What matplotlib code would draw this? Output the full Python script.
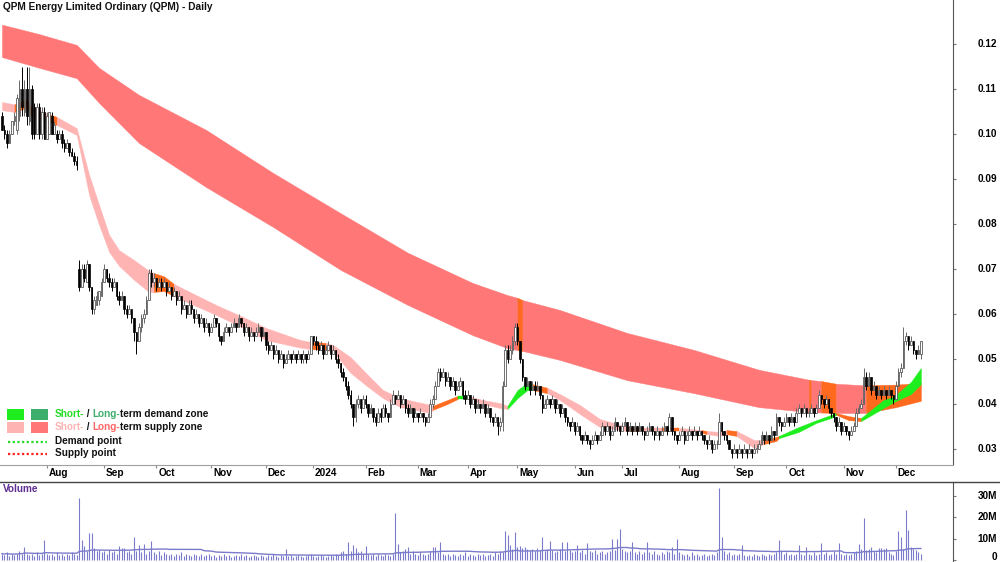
import numpy as np
import pandas as pd
import matplotlib
matplotlib.use("Agg")
import matplotlib.pyplot as plt
from matplotlib.patches import Rectangle
from matplotlib.lines import Line2D

plt.rcParams['font.family'] = ['Liberation Sans', 'DejaVu Sans']
plt.rcParams['font.weight'] = 'bold'

# ---------------- data (prices in thousandths of a dollar) ----------------
open_m = [
104,101,100,98,100,103,101,104,110,105, 110,103,110,106,100,106,100,105,99,100,
104,100,100,99,100,98,97,98,96,95, 94,70,66,70,67,71,66,61,62,63,
64,67,70,68,67,66,67,64,63,64, 61,60,61,59,56,54,57,59,60,63,
69,67,68,66,67,66,67,65,66,64, 65,63,64,61,62,60,62,61,59,60,
58,59,57,58,56,57,59,58,55,54, 56,57,56,57,58,57,59,58,56,57,
55,56,55,56,57,55,56,53,52,53, 51,52,50,51,49,50,51,50,51,50,
51,50,51,50,51,55,54,53,52,53, 51,52,53,51,52,50,49,47,46,44,
42,40,37,40,41,39,41,40,38,39, 37,36,38,37,39,38,37,40,42,41,
42,40,41,39,38,39,37,38,37,38, 37,36,37,40,41,44,47,46,47,45,
46,44,45,43,44,45,42,41,42,40, 41,39,40,39,40,38,39,37,36,37,
35,36,44,52,50,52,54,57,54,50, 46,44,45,43,44,43,44,42,39,40,
41,40,41,39,40,38,39,37,36,35, 36,34,35,33,32,33,32,31,32,33,
32,33,35,34,35,33,34,36,35,34, 35,36,34,35,34,35,34,35,34,33,
34,35,34,33,34,33,34,35,34,37, 34,33,32,33,34,32,33,34,33,34,
33,34,33,32,31,32,30,31,31,36, 34,33,32,30,29,30,29,30,29,30,
29,30,29,30,30,31,33,32,33,32, 34,33,37,36,35,36,37,36,37,36,
38,39,38,39,38,38,39,38,39,42, 41,40,41,39,38,37,35,36,34,35,
34,33,34,35,38,39,40,46,44,46, 43,44,42,43,42,43,42,43,42,41,
44,47,48,54,55,53,54,52,51,51]
high_m = [
105,102,101,101,103,105,109,112,115,112, 115,115,111,107,107,107,106,106,105,105,
105,103,101,101,101,99,99,98,97,96, 95,72,71,71,72,71,66,64,65,65,
68,71,70,69,68,68,67,65,65,64, 62,62,61,59,56,58,60,61,64,70,
70,69,68,68,68,68,67,67,66,66, 65,65,64,63,62,63,63,61,61,60,
60,59,59,58,58,60,59,58,55,57, 58,57,58,59,58,60,59,58,58,57,
57,56,57,58,57,57,56,54,54,53, 53,52,52,51,51,52,51,52,51,52,
51,52,51,52,55,55,55,54,54,53, 53,54,53,53,52,51,49,48,46,45,
43,40,41,42,41,42,42,40,40,39, 38,39,39,40,40,38,41,43,42,43,
42,42,41,40,40,39,39,38,39,38, 37,38,41,42,45,48,48,48,47,47,
46,46,45,45,46,45,43,43,42,42, 41,41,40,41,40,40,39,37,38,37,
37,45,53,53,53,55,58,58,54,50, 46,46,45,45,45,45,44,42,41,42,
41,42,41,41,40,40,39,37,36,37, 36,36,35,33,34,33,32,33,34,33,
34,36,35,36,35,35,37,36,35,36, 37,36,36,35,36,35,36,35,34,35,
36,35,34,35,34,35,36,35,38,37, 34,33,34,35,34,34,35,34,35,34,
35,34,33,32,33,32,32,32,38,36, 34,33,32,30,31,30,31,30,31,30,
31,30,31,31,32,34,33,34,33,35, 34,38,37,36,37,38,37,38,37,39,
40,39,40,39,39,40,39,40,43,42, 41,42,41,39,38,37,37,36,36,35,
34,35,36,39,40,41,48,47,47,46, 45,44,44,43,44,43,44,43,42,45,
48,49,57,56,55,55,54,52,53,54]
low_m = [
101,99,97,98,100,102,100,103,104,104, 102,102,99,99,100,99,99,99,99,100,
100,100,98,99,97,96,97,95,95,93, 92,65,66,67,67,65,60,60,62,62,
64,67,67,66,65,66,63,62,63,60, 59,60,58,54,51,54,56,58,60,63,
66,66,65,66,65,66,64,65,63,64, 62,63,60,61,59,60,60,58,59,57,
58,56,57,55,56,57,57,54,53,54, 56,55,56,57,56,57,57,55,56,54,
55,54,55,56,54,55,52,51,52,50, 51,49,50,48,49,50,49,50,49,50,
49,49,49,50,51,53,52,51,52,50, 51,52,50,51,49,48,46,45,43,41,
39,35,36,39,38,39,39,37,38,36, 35,36,36,37,37,36,37,40,40,41,
39,40,38,37,38,36,37,36,37,36, 35,36,37,39,41,44,45,46,44,45,
43,44,42,43,44,41,40,41,39,40, 38,39,38,39,37,38,36,35,36,33,
34,34,44,49,50,51,53,53,49,45, 43,44,42,43,42,43,41,38,39,40,
39,40,38,39,37,38,36,35,34,35, 33,34,32,31,32,31,30,31,32,31,
32,33,33,34,32,33,34,34,33,34, 35,33,34,33,34,33,34,33,32,33,
34,33,32,33,32,33,34,33,34,33, 32,31,32,33,31,32,33,32,33,32,
33,32,31,30,31,29,30,30,31,33, 32,31,30,28,29,28,29,28,29,28,
29,28,29,29,30,31,31,32,31,32, 32,33,35,34,35,36,35,36,35,36,
38,37,38,37,37,38,37,38,39,40, 39,40,38,37,36,34,35,33,34,33,
32,33,34,35,38,39,40,43,44,42, 43,41,42,41,42,41,42,41,40,41,
44,46,48,53,52,53,51,50,51,50]
close_m = [
101,100,98,100,103,104,108,110,106,110, 104,110,100,100,106,100,105,99,104,105,
100,102,99,100,98,97,98,96,95,94, 93,66,70,68,71,66,61,63,64,65,
67,70,68,67,66,67,64,63,64,61, 60,61,59,56,54,57,59,60,63,69,
67,68,66,67,66,67,65,66,64,65, 63,64,61,62,60,62,61,59,60,58,
59,57,58,56,57,59,58,55,54,56, 57,56,57,58,57,59,58,56,57,55,
56,55,56,57,55,56,53,52,53,51, 52,50,51,49,50,51,50,51,50,51,
50,51,50,51,55,54,53,52,53,51, 52,53,51,52,50,49,47,46,44,42,
40,37,40,41,39,41,40,38,39,37, 36,38,37,39,38,37,40,42,41,42,
40,41,39,38,39,37,38,37,38,37, 36,37,40,41,44,47,46,47,45,46,
44,45,43,44,45,42,41,42,40,41, 39,40,39,40,38,39,37,36,37,35,
36,44,52,50,52,54,57,54,50,46, 44,45,43,44,43,44,42,39,40,41,
40,41,39,40,38,39,37,36,35,36, 34,35,33,32,33,32,31,32,33,32,
33,35,34,35,33,34,36,35,34,35, 36,34,35,34,35,34,35,34,33,34,
35,34,33,34,33,34,35,34,37,34, 33,32,33,34,32,33,34,33,34,33,
34,33,32,31,32,30,31,31,36,34, 33,32,30,29,30,29,30,29,30,29,
30,29,30,30,31,33,32,33,32,34, 33,37,36,35,36,37,36,37,36,38,
39,38,39,38,38,39,38,39,42,41, 40,41,39,38,37,35,36,34,35,34,
33,34,35,38,39,40,46,44,46,43, 44,42,43,42,43,42,43,42,41,44,
47,48,54,55,53,54,52,51,52,54]
volume_m = [
3,2.5,3.5,2,3,2.5,3,4,3,6, 3,2.5,3,2,3.5,2.5,3,9.3,3,2.5,
3,2,3.5,2.5,3,2,3,2.5,3.5,3, 2.5,28.8,9.3,6.5,4,12.6,12.6,5.6,4,4.5,
3.5,4,3,4.5,3.5,4,3,6.5,5.6,5.6, 3.5,4,3,10.7,4,7,3.5,7.4,3,4,
8.8,3.5,3,4,2.5,3.5,3,2.5,3,2, 3,2.5,3.5,2,3,2.5,2,3,2.5,2,
3,2,2.5,3,2,2.5,1.5,2.5,2,3, 2,2.5,1.5,2,2.5,2,3,2,2.5,1.5,
2,2.5,2,1.5,2.5,2,1.5,2.5,2,3, 2,1.5,2.5,2,5.1,2,2.5,1.5,2,2.5,
2,1.5,2,2.5,3,2,1.5,2,2.5,2, 1.5,2,2.5,2,3,2.5,3.5,4,3,8.4,
4,7,5.6,3.5,4,3,6.5,3,2.5,3, 2,3,2.5,2,3,2.5,2,3,21.9,7.4,
3.5,4,5.1,6,3,4,3,2.5,3.5,3, 2.5,3,4,6,6,3.5,8.4,3,2.5,3,
2,3,2.5,2,3,2.5,3.5,2,3,2.5, 2,3,2.5,3,2,2.5,3,2,3.5,3,
4,3.5,13.5,11.6,7,5,13,6,6.5,5.5, 6,5,4.5,5,4,5.5,4.5,10.7,4,5,
8.8,4.5,3.5,4,5,8.4,4,8.4,4.5,3.5, 4,7,3.5,4.5,3,7.9,4,3.5,4.5,3,
3.5,4,3,3.5,4,9.8,4.5,9.8,14.4,5, 4,3.5,4,8.4,3.5,3,4,3,3.5,8.4,
3.5,3,4,3,2.5,3.5,3,4,3.5,6, 3,9.8,3.5,3,2.5,3,2,3.5,2.5,3,
2,2.5,3,2,2.5,3,2.5,3.5,33.6,10.7, 4,3,3.5,2.5,3,2.5,3,7,2.5,2,
2.5,2,3,2.5,2,3,2.5,2,3,2.5, 3,3.5,9.3,4,3,3.5,2.5,3,2.5,3,
7,3,2.5,6,3,2.5,3.5,2.5,3,7.9, 3,3.5,2.5,3,4,3,7.9,3,2.5,3,
2.5,3,3.5,4,7.4,5,19.5,4.5,5,6, 4,3.5,5.5,5.5,5,5.5,3.5,3,2.5,4,
13.5,10.7,5,23.3,14,6,5,4.5,3.5,3]

# long-term zone: day index, upper / lower edge (thousandths), state of segment to the right
lt_day   = [0, 15, 30, 39, 55, 82, 109, 136, 163, 189, 203, 207, 209, 224, 251, 278, 304, 324, 325, 329, 335, 345, 347, 359, 369]
lt_upper = [124.3,122.2,119.8,114.7,108.7,100.9,91.3,82.4,73.6,66.9,64.2,63.6,63.1,60.9,55.8,52.0,47.6,45.4,45.3,45.1,44.5,44.2,44.2,44.3,44.7]
lt_lower = [117.1,114.7,112.4,106.9,98.0,88.2,79.3,69.8,62.0,55.3,52.4,52.0,51.8,49.8,45.3,42.4,39.3,38.2,38.2,38.1,38.0,38.0,38.0,39.3,40.7]
lt_state = ['s']*11 + ['o','s','s','s','s','s','o','s','o','s','s','o','o','o']

# short-term zone
st_day   = [0,5,10,12,19,22,30,35,39,43,47,53,59,61,65,69,74,86,97,106,120,124,130,133,140,147,153,160,172,173,178,183,187,193,200,203,207,211,213,219,224,232,240,251,256,265,272,281,283,288,291,295,302,306,311,312,320,327,333,335,340,345,354,358,365,369]
st_upper = [107.1,106.6,107.6,105.8,104.4,103.8,101.3,90.9,84.2,77.6,74.2,72.0,69.6,69.1,68.4,66.7,65.3,62.0,59.3,56.9,54.2,53.8,53.6,53.1,50.4,46.4,43.1,41.3,39.8,39.6,40.7,41.8,41.8,40.9,40.2,39.6,43.1,44.7,44.4,43.6,42.2,39.8,36.7,34.9,34.7,34.7,34.7,34.2,34.0,33.8,34.2,34.0,32.0,32.0,32.7,32.9,34.9,36.4,37.6,38.0,37.3,36.9,40.9,41.6,44.9,48.0]
st_lower = [105.3,104.9,105.8,103.8,102.7,102.0,99.8,86.4,79.8,73.8,70.7,67.6,64.9,64.9,65.1,64.0,62.7,59.8,56.9,54.2,52.5,52.2,52.0,51.6,46.9,43.8,41.3,39.3,38.0,38.7,39.8,41.1,41.1,40.0,39.1,38.9,41.3,43.1,43.1,42.4,40.9,37.8,34.9,34.0,34.0,34.0,34.0,33.6,33.3,32.9,33.3,32.9,30.2,31.1,31.8,32.4,33.8,35.8,36.9,37.6,36.4,36.2,39.1,40.4,42.2,44.4]
st_state = ['p','o','o','p','o','p','p','p','p','p','p','p','p','o','o','p','p','p','p','p','p','o','p','p','p','p','p','p','p','o','o','g','p','p','p','g','g','g','o','p','p','p','p','o','p','o','p','o','p','p','o','p','p','o','o','g','g','g','g','o','o','g','g','g','g','g']

price_ticks = [0.03, 0.04, 0.05, 0.06, 0.07, 0.08, 0.09, 0.10, 0.11, 0.12]
volume_ticks = [0, 10e6, 20e6, 30e6]
volume_tick_labels = ['0', '10M', '20M', '30M']

holidays = pd.to_datetime(['2023-12-25', '2023-12-26', '2024-01-01', '2024-01-26',
                           '2024-03-29', '2024-04-01', '2024-04-25', '2024-06-10'])
days = pd.bdate_range('2023-07-06', '2024-12-16')
days = days[~days.isin(holidays)]

# ---------------- preparation ----------------
O = np.array(open_m) / 1000.0
H = np.array(high_m) / 1000.0
L = np.array(low_m) / 1000.0
C = np.array(close_m) / 1000.0
V = np.array(volume_m) * 1e6
n = len(C)
assert len(O) == n and len(H) == n and len(L) == n and len(V) == n
assert len(st_day) == len(st_upper) == len(st_lower) == len(st_state)
assert len(lt_day) == len(lt_upper) == len(lt_lower) == len(lt_state)
days = days[:n]
x = np.arange(n)

W, Hpx = 1000, 562
fig = plt.figure(figsize=(W / 100, Hpx / 100), dpi=100)
ax = fig.add_axes([0, 97 / Hpx, 953 / W, 465 / Hpx])
axv = fig.add_axes([0, 0, 953 / W, 80 / Hpx])

FS = 7.2
FS_AX = 7.2
FS_TITLE = 7.3
LT_RED, ST_PINK, ORANGE, GREEN, LT_GREEN = '#FF7777', '#FFB4B4', '#FF6A1F', '#1EEE1E', '#3DAE6C'
PX2PT = 0.72

def draw_band(days_i, up, lo, states, colors, z):
    d = np.asarray(days_i, float)
    u = np.asarray(up) / 1000.0
    l = np.asarray(lo) / 1000.0
    k = 0
    m = len(d)
    while k < m - 1:
        s = states[k]
        j = k
        while j < m - 1 and states[j] == s:
            j += 1
        ax.fill_between(d[k:j + 1], l[k:j + 1], u[k:j + 1], facecolor=colors[s],
                        edgecolor=colors[s], lw=0.3, zorder=z)
        k = j

draw_band(lt_day, lt_upper, lt_lower, lt_state, {'s': LT_RED, 'o': ORANGE}, 1)
draw_band(st_day, st_upper, st_lower, st_state, {'p': ST_PINK, 'o': ORANGE, 'g': GREEN}, 2)

# candles
up = C >= O
wick_cols = np.where(up, '#6a6a6a', '#000000')
ax.vlines(x, L, H, colors=wick_cols, lw=0.7, zorder=3)
body_b = np.minimum(O, C)
body_h = np.maximum(np.abs(C - O), 0.00018)
ax.bar(x[up], body_h[up], 0.7, body_b[up], color='white', edgecolor='#5a5a5a', lw=0.6, zorder=4)
ax.bar(x[~up], body_h[~up], 0.6, body_b[~up], color='black', edgecolor='black', lw=0.5, zorder=4)

xmin, xmax = -0.8, 381.9
ax.set_xlim(xmin, xmax)
ax.set_ylim(0.026444, 0.129778)
for s in ['top', 'left']:
    ax.spines[s].set_visible(False)
ax.spines['right'].set_color('#555555')
ax.spines['bottom'].set_color('#a0a0a0')
ax.yaxis.tick_right()
ax.set_yticks(price_ticks)
ax.set_yticklabels([])
ax.tick_params(axis='y', direction='out', length=2.5, color='#777777')
for v in price_ticks:
    ax.annotate('%.2f' % v, xy=(1, v), xycoords=('axes fraction', 'data'),
                xytext=(44 * PX2PT, 0), textcoords='offset points', ha='right', va='center',
                fontsize=FS_AX, fontweight='bold', annotation_clip=False)

month_start = [i for i in range(1, n) if days[i].month != days[i - 1].month]
month_lab = ['2024' if days[i].month == 1 else days[i].strftime('%b') for i in month_start]
ax.set_xticks(month_start)
ax.set_xticklabels([])
ax.tick_params(axis='x', direction='out', length=2.5, color='#888888')
for i, lab in zip(month_start, month_lab):
    ax.annotate(lab, xy=(i, 0), xycoords=('data', 'axes fraction'), xytext=(1.3, -5.8),
                textcoords='offset points', ha='left', va='center', fontsize=FS,
                fontweight='bold', annotation_clip=False)

# volume
VOL_C = '#7B7BCB'
axv.vlines(x, 0, V, colors=VOL_C, lw=0.8)
vol_ma = pd.Series(V).rolling(50, min_periods=1).mean().values
axv.plot(x, vol_ma, color=VOL_C, lw=1.0)
axv.set_xlim(xmin, xmax)
axv.set_ylim(-0.93e6, 36.3e6)
for s in ['top', 'left', 'bottom']:
    axv.spines[s].set_visible(False)
axv.spines['right'].set_color('#555555')
axv.set_xticks([])
axv.yaxis.tick_right()
axv.set_yticks(volume_ticks)
axv.set_yticklabels([])
axv.tick_params(axis='y', direction='out', length=2.5, color='#777777')
for v, lab in zip(volume_ticks, volume_tick_labels):
    dy = 2.5 if v == 0 else 0
    axv.annotate(lab, xy=(1, v), xycoords=('axes fraction', 'data'),
                 xytext=(44 * PX2PT, dy), textcoords='offset points', ha='right', va='center',
                 fontsize=FS_AX, fontweight='bold', annotation_clip=False)

fig.add_artist(Line2D([0, 1], [80 / Hpx, 80 / Hpx], color='#444444', lw=1.0, transform=fig.transFigure))

def fx(px):
    return px / W

def fy(py):
    return 1 - py / Hpx

fig.text(fx(3), fy(7), 'QPM Energy Limited Ordinary (QPM) - Daily', ha='left', va='center',
         fontsize=FS_TITLE, fontweight='bold', color='#111111')
fig.text(fx(3), fy(489), 'Volume', ha='left', va='center', fontsize=FS, fontweight='bold',
         color='#5E2D91')

# legend
for (px0, py0, col) in [(7, 409, GREEN), (31, 409, LT_GREEN), (7, 422, ST_PINK), (31, 422, LT_RED)]:
    fig.add_artist(Rectangle((fx(px0), fy(py0 + 10.5)), 17 / W, 10.5 / Hpx, facecolor=col,
                             edgecolor='none', transform=fig.transFigure))
fig.add_artist(Line2D([fx(7.5), fx(47)], [fy(441.5)] * 2, color='#22DD22', lw=1.6,
                      linestyle=(0, (1, 1.1)), transform=fig.transFigure))
fig.add_artist(Line2D([fx(7.5), fx(47)], [fy(453.5)] * 2, color='#FF2020', lw=1.6,
                      linestyle=(0, (1, 1.1)), transform=fig.transFigure))

renderer = fig.canvas.get_renderer()

def text_w(s):
    t = fig.text(0, 0, s, fontsize=FS, fontweight='bold')
    w = t.get_window_extent(renderer).width
    t.remove()
    return w

def chain(px0, py, pieces):
    prefix = ''
    bar_w = text_w('|')
    for s, col in pieces:
        off = (text_w(prefix + '|') - bar_w) if prefix else 0.0
        fig.text(fx(px0 + off), fy(py), s, ha='left', va='center', fontsize=FS,
                 fontweight='bold', color=col)
        prefix += s

chain(55, 414, [('Short-', '#22DD22'), (' / ', '#111111'), ('Long-', LT_GREEN),
                ('term demand zone', '#111111')])
chain(55, 427, [('Short-', ST_PINK), (' / ', '#111111'), ('Long-', '#FF6666'),
                ('term supply zone', '#111111')])
fig.text(fx(55), fy(441.5), 'Demand point', ha='left', va='center', fontsize=FS,
         fontweight='bold', color='#111111')
fig.text(fx(55), fy(453.5), 'Supply point', ha='left', va='center', fontsize=FS,
         fontweight='bold', color='#111111')

fig.savefig('out.png', dpi=100)
